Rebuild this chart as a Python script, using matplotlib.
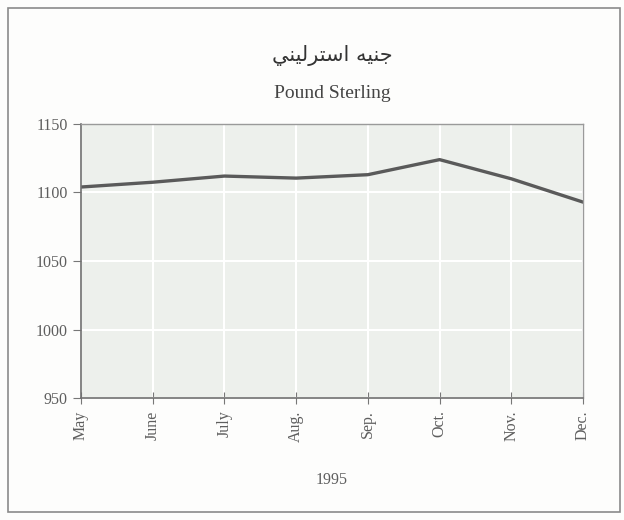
import numpy as np
import matplotlib.pyplot as plt
from matplotlib.patches import Rectangle

months = ['May', 'June', 'July', 'Aug.', 'Sep.', 'Oct.', 'Nov.', 'Dec.']
values = [1104, 1107.5, 1112, 1110.5, 1113, 1124, 1110, 1093]
y_ticks = [950, 1000, 1050, 1100, 1150]

title_ar = 'جنيه استرليني'
title_en = 'Pound Sterling'
x_title = '1995'

# matplotlib has no arabic shaping, so pick the presentation forms by hand
# (isolated, final, initial, medial); None = letter does not join to the next one
FORMS = {
    'ا': (0xFE8D, 0xFE8E, None, None),
    'ر': (0xFEAD, 0xFEAE, None, None),
    'ج': (0xFE9D, 0xFE9E, 0xFE9F, 0xFEA0),
    'ن': (0xFEE5, 0xFEE6, 0xFEE7, 0xFEE8),
    'ي': (0xFEF1, 0xFEF2, 0xFEF3, 0xFEF4),
    'ه': (0xFEE9, 0xFEEA, 0xFEEB, 0xFEEC),
    'س': (0xFEB1, 0xFEB2, 0xFEB3, 0xFEB4),
    'ت': (0xFE95, 0xFE96, 0xFE97, 0xFE98),
    'ل': (0xFEDD, 0xFEDE, 0xFEDF, 0xFEE0),
}


def shape_arabic(text):
    out = []
    for i, ch in enumerate(text):
        if ch not in FORMS:
            out.append(ch)
            continue
        prev = text[i - 1] if i > 0 else ''
        nxt = text[i + 1] if i + 1 < len(text) else ''
        join_prev = prev in FORMS and FORMS[prev][2] is not None
        join_next = nxt in FORMS and FORMS[ch][2] is not None
        iso, fin, ini, med = FORMS[ch]
        if join_prev and join_next:
            code = med
        elif join_prev:
            code = fin
        elif join_next:
            code = ini
        else:
            code = iso
        out.append(chr(code))
    return ''.join(reversed(out))


plt.rcParams['font.family'] = ['Liberation Serif', 'DejaVu Sans']

fig = plt.figure(figsize=(6.24, 5.2), dpi=100)
fig.patch.set_facecolor('#fdfdfc')
fig.patches.append(Rectangle((8 / 624, 8 / 520), 612 / 624, 504 / 520, transform=fig.transFigure,
                             fill=False, edgecolor='#8a8a8a', linewidth=1.2))

ax = fig.add_axes([81 / 624, 122 / 520, 502 / 624, 274 / 520])
ax.set_facecolor('#edf0ec')

x = np.arange(len(months))
ax.plot(x, values, color='#5a5a5a', linewidth=2.4, solid_joinstyle='round')

ax.set_xlim(0, len(months) - 1)
ax.set_ylim(950, 1150)
ax.set_yticks(y_ticks)
ax.set_xticks(x)
ax.set_xticklabels(months, rotation=90, color='#5e5e5e', fontsize=11.5)
ax.tick_params(axis='y', labelsize=11.5, labelcolor='#5e5e5e', color='#777777', length=6, direction='out')
ax.tick_params(axis='x', color='#777777', length=8, direction='inout', pad=5)
ax.grid(True, color='white', linewidth=1.5)
ax.set_axisbelow(True)

for side in ['left', 'bottom']:
    ax.spines[side].set_color('#707070')
    ax.spines[side].set_linewidth(1.2)
for side in ['top', 'right']:
    ax.spines[side].set_color('#9a9a9a')
    ax.spines[side].set_linewidth(1.0)

ax.set_xlabel(x_title, color='#5e5e5e', fontsize=11.5, labelpad=22)

fig.text(332 / 624, 1 - 55 / 520, shape_arabic(title_ar), ha='center', va='center',
         fontsize=15, color='#333333', family=['DejaVu Sans'])
fig.text(332 / 624, 1 - 93 / 520, title_en, ha='center', va='center',
         fontsize=14, color='#444444')

fig.savefig('out.png', dpi=100, facecolor=fig.get_facecolor())
